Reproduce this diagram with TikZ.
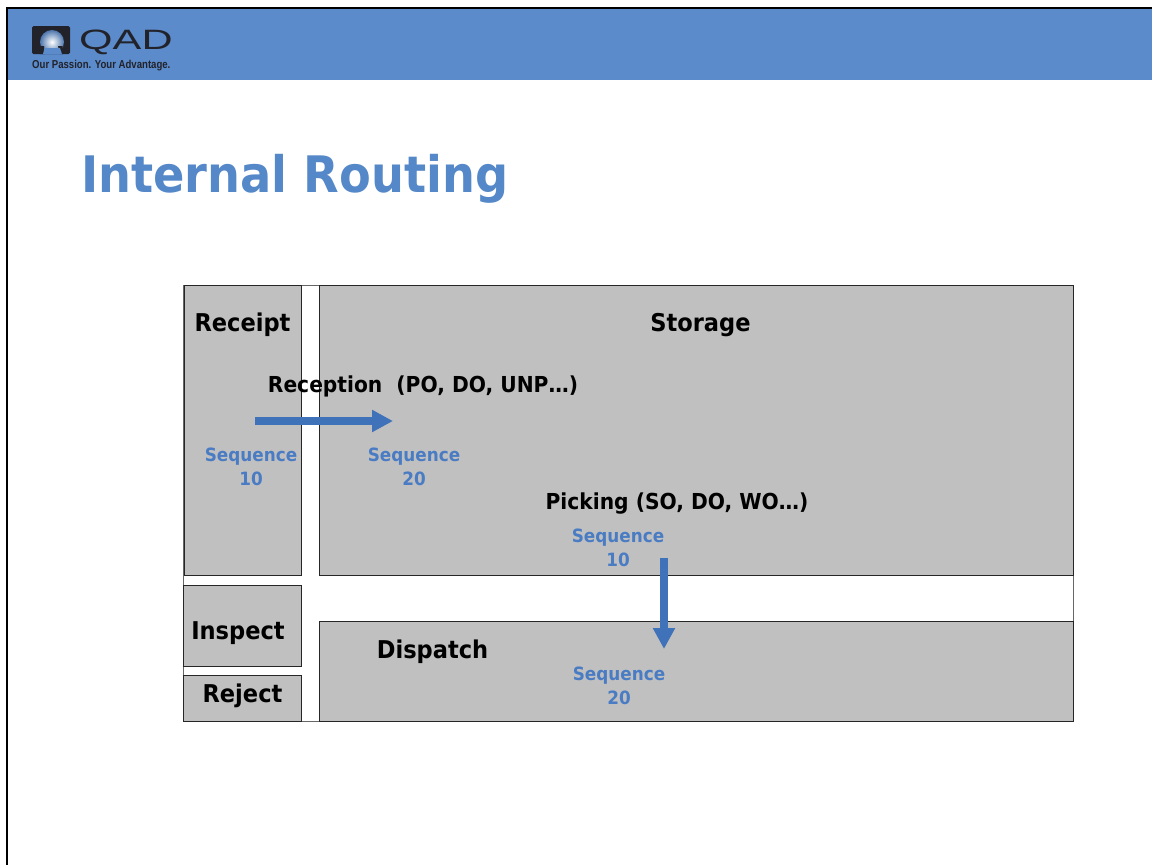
\documentclass[tikz,border=0pt]{standalone}
\usepackage{fontspec}
\usetikzlibrary{arrows.meta}
\setmainfont{DejaVu Sans}
\definecolor{band}{HTML}{5B8BCB}
\definecolor{titleblue}{HTML}{5588C8}
\definecolor{seqblue}{HTML}{4A7CC4}
\definecolor{arrowblue}{HTML}{3F72B8}
\definecolor{zone}{HTML}{C0C0C0}
\definecolor{logoblack}{HTML}{22222A}
\newfontfamily\tahomish[FakeStretch=0.92]{DejaVu Sans}
\tikzset{
  zonebox/.style={draw=black!85,line width=1pt,fill=zone},
  zonelabel/.style={font=\tahomish\fontsize{24.5}{28}\selectfont\bfseries,text=black,inner sep=0pt,anchor=center},
  routelabel/.style={font=\tahomish\fontsize{22}{28}\selectfont\bfseries,text=black,inner sep=0pt,anchor=center},
  seqlabel/.style={font=\tahomish\fontsize{18.3}{24}\selectfont\bfseries,text=seqblue,inner sep=0pt,align=center,anchor=center},
  flowarrow/.style={draw=arrowblue,line width=7.5pt,-{Triangle[length=21pt,width=21pt]}},
}
\begin{document}
\begin{tikzpicture}[x=1pt,y=-1pt]
\useasboundingbox (0,0) rectangle (1152,865);
\fill[white] (0,0) rectangle (1152,865);
% slide frame and header
\fill[band] (7,8) rectangle (1152,80);
\draw[black,line width=1.6pt] (7,865) -- (7,8) -- (1152,8);
% logo
\fill[logoblack,rounded corners=1.5pt] (32,26) rectangle (70,54);
\shade[inner color=white,outer color=band!85!black] (52,42) circle[radius=12];
\fill[logoblack] (39.5,46) -- (44,46) -- (45,54) -- (39.5,54) -- cycle;
\fill[logoblack] (62.5,46) -- (58,46) -- (60,54) -- (62.5,54) -- cycle;
\fill[band] (44.5,48) -- (60,48) -- (62,54.2) -- (43,54.2) -- cycle;
\node[inner sep=0pt,anchor=west,text=logoblack] (logotext) at (79,42) {\fontspec[FakeStretch=1.54]{Liberation Sans}\fontsize{28}{30}\selectfont QAD};
\node[inner sep=0pt,anchor=west,text=logoblack] (tagline) at (32,65.5) {\fontspec[FakeStretch=0.834]{Liberation Sans}\fontsize{11.5}{12}\selectfont\bfseries Our Passion. Your Advantage.};
% title
\node[inner sep=0pt,anchor=west,text=titleblue] (title) at (81,179) {\tahomish\fontsize{50.3}{56}\selectfont\bfseries Internal Routing};
% plan
\draw[draw=black!60,line width=0.7pt,fill=white] (183,285) rectangle (1073,721);
\path[zonebox] (184,285) rectangle (301,575);
\path[zonebox] (319.5,285) rectangle (1073,575);
\path[zonebox] (183,585) rectangle (301,666);
\path[zonebox] (183,675.5) rectangle (301,721);
\path[zonebox] (319.5,621.5) rectangle (1073,721);
\node[zonelabel] (receipt) at (242.5,325) {Receipt};
\node[zonelabel] (storage) at (700.5,325) {Storage};
\node[zonelabel] (inspect) at (238,633) {Inspect};
\node[zonelabel] (reject) at (242.5,696) {Reject};
\node[zonelabel] (dispatch) at (432.5,652) {Dispatch};
\node[routelabel] (reception) at (423,386) {Reception\ \ (PO, DO, UNP…)};
\node[routelabel] (picking) at (677,504) {Picking (SO, DO, WO…)};
\node[seqlabel] (s1) at (251,466.5) {Sequence\\10};
\node[seqlabel] (s2) at (414,466.5) {Sequence\\20};
\node[seqlabel] (s3) at (618,548) {Sequence\\10};
\node[seqlabel] (s4) at (619,685.5) {Sequence\\20};
\coordinate (a1s) at (255,421);
\coordinate (a1e) at (393,421);
\coordinate (a2s) at (664,558);
\coordinate (a2e) at (664,649);
\draw[flowarrow] (a1s) -- (a1e);
\draw[flowarrow] (a2s) -- (a2e);
\end{tikzpicture}
\end{document}
